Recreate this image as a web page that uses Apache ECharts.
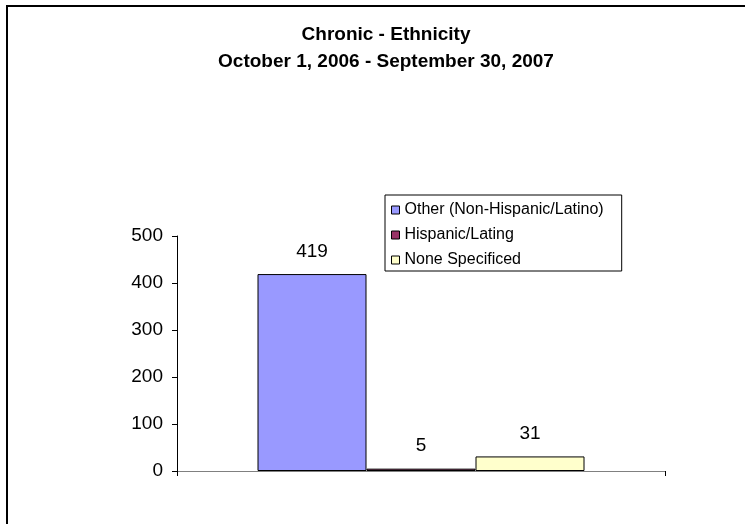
<!DOCTYPE html>
<html>
<head>
<meta charset="utf-8">
<script src="https://cdn.jsdelivr.net/npm/echarts@6/dist/echarts.min.js"></script>
<style>html,body{margin:0;padding:0;background:#fff}#c{width:745px;height:524px}</style>
</head>
<body>
<div id="c"></div>
<script>
var titleLines = ['Chronic - Ethnicity', 'October 1, 2006 - September 30, 2007'];
var categories = [''];
var seriesNames = ['Other (Non-Hispanic/Latino)', 'Hispanic/Lating', 'None Specificed'];
var seriesValues = [[419], [5], [31]];
var seriesColors = ['#9999FF', '#993366', '#FFFFCC'];
var yTicks = [0, 100, 200, 300, 400, 500];

var chart = echarts.init(document.getElementById('c'));
var font = 'Liberation Sans, Arial, sans-serif';
chart.setOption({
  animation: false,
  backgroundColor: '#fff',
  title: {
    text: titleLines.join('\n'),
    left: 381, top: 16, textAlign: 'center',
    textStyle: {fontFamily: font, fontWeight: 'bold', fontSize: 19, lineHeight: 27, color: '#000'}
  },
  graphic: [{
    type: 'rect', shape: {x: 7, y: 6, width: 800, height: 600},
    style: {fill: 'none', stroke: '#000', lineWidth: 2}, silent: true
  }],
  legend: {
    orient: 'vertical', left: 385, top: 195,
    data: seriesNames,
    borderColor: '#000', borderWidth: 1,
    padding: [7, 18, 3, 6],
    itemWidth: 8, itemHeight: 8, itemGap: 9, itemTextGap: 7,
    icon: 'rect',
    itemStyle: {borderColor: '#000', borderWidth: 1},
    textStyle: {fontFamily: font, fontSize: 16, color: '#000', lineHeight: 16}
  },
  grid: {left: 177, right: 80, top: 236, bottom: 53, containLabel: false},
  xAxis: {
    type: 'category', data: categories,
    axisLine: {lineStyle: {color: '#808080', width: 1}},
    axisTick: {show: true, length: 5, lineStyle: {color: '#000'}},
    axisLabel: {show: false},
    splitLine: {show: false}
  },
  yAxis: {
    type: 'value', min: yTicks[0], max: yTicks[yTicks.length - 1], interval: 100,
    axisLine: {show: true, lineStyle: {color: '#000'}},
    axisTick: {show: true, length: 5, lineStyle: {color: '#000'}},
    axisLabel: {fontFamily: font, fontSize: 19, color: '#000', margin: 14},
    splitLine: {show: false}
  },
  series: seriesNames.map(function (n, i) {
    return {
      name: n, type: 'bar', data: seriesValues[i],
      barWidth: 109, barGap: '0%',
      itemStyle: {color: seriesColors[i], borderColor: '#000', borderWidth: 1},
      label: {show: true, position: 'top', distance: 13, fontFamily: font, fontSize: 19, color: '#000'}
    };
  })
});
</script>
</body>
</html>
